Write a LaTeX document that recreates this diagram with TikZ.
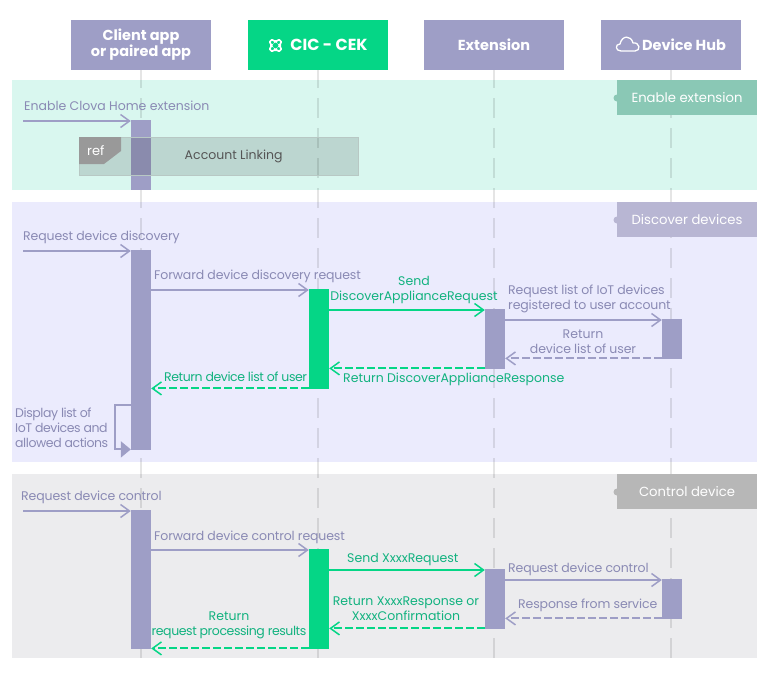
\documentclass[tikz,border=0pt]{standalone}
\usepackage{fontspec}
\setmainfont{Poppins}
\usetikzlibrary{arrows.meta}
\definecolor{reqcol}{HTML}{9E9EC6}
\definecolor{cekcol}{HTML}{05D686}
\definecolor{reqtext}{HTML}{8A8AB4}
\definecolor{cektext}{HTML}{12B27F}
\newcommand{\closer}{\addfontfeature{LetterSpace=-3.4}}
\newcommand{\snug}{\addfontfeature{LetterSpace=-1}}
\tikzstyle{head} = [rectangle, minimum width=140pt, minimum height=50pt, inner sep=0, align=center, text=white, font=\fontsize{14.5}{16}\selectfont\bfseries, fill=reqcol]
\tikzstyle{band} = [rectangle, minimum width=745pt, inner sep=0]
\tikzstyle{tag} = [rectangle, minimum width=140pt, minimum height=35pt, inner sep=0, anchor=north east, text=white, font=\fontsize{13.2}{15}\selectfont]
\tikzstyle{dot} = [circle, minimum size=7pt, inner sep=0]
\tikzstyle{lifeline} = [draw=black, draw opacity=0.1, line width=2pt, dash pattern=on 20pt off 10pt, dash phase=2pt]
\tikzstyle{bar} = [rectangle, minimum width=20pt, inner sep=0, anchor=north, fill=reqcol]
\tikzstyle{cekbar} = [bar, fill=cekcol]
\tikzstyle{req} = [draw=reqcol, line width=2pt, -{Straight Barb[length=9pt,width=13pt,line width=1.5pt]}]
\tikzstyle{reqret} = [req, dash pattern=on 8pt off 3pt]
\tikzstyle{cek} = [req, draw=cekcol]
\tikzstyle{cekret} = [cek, dash pattern=on 8pt off 3pt]
\tikzstyle{lbl} = [inner sep=0, yshift=-1pt, align=left, anchor=west, text=reqtext, font=\fontsize{12.5}{15}\selectfont]
\tikzstyle{ceklbl} = [lbl, text=cektext]

\begin{document}
\begin{tikzpicture}[x=1pt, y=-1pt, node distance=177pt]
\useasboundingbox (0,0) rectangle (770,678);

% bands
\node (bandenable) [band, minimum height=110pt, fill={rgb,255:red,217;green,247;blue,239}] at (384.5,135) {};
\node (bandfind) [band, minimum height=260pt, fill={rgb,255:red,235;green,235;blue,253}] at (384.5,332) {};
\node (bandcontrol) [band, minimum height=184pt, fill={rgb,255:red,236;green,236;blue,238}] at (384.5,566) {};

% headers
\node (client) [head] at (141,45) {Client app\\or paired app};
\node (cic) [head, right of=client, fill=cekcol, font=\fontsize{16}{16}\selectfont\bfseries] {\hspace*{22pt}CIC - CEK};
\node (ext) [head, right of=cic, xshift=-1pt] {Extension};
\node (hub) [head, right of=ext] {\hspace*{26pt}Device Hub};

% lifelines
\draw [lifeline] (client.south) -- ++(0,588);
\draw [lifeline] (cic.south) -- ++(0,588);
\draw [lifeline] (ext.south) -- ++(0,588);
\draw [lifeline] (hub.south) -- ++(0,588);

% tags
\node (dotenable) [dot, fill={rgb,255:red,138;green,200;blue,181}] at (617,98) {};
\node (tagenable) [tag, fill={rgb,255:red,138;green,200;blue,181}] at (bandenable.north east) {Enable extension};
\node (dotfind) [dot, fill={rgb,255:red,184;green,182;blue,211}] at (617,220) {};
\node (tagfind) [tag, fill={rgb,255:red,184;green,182;blue,211}] at (bandfind.north east) {Discover devices};
\node (dotcontrol) [dot, fill={rgb,255:red,183;green,183;blue,183}] at (617,492) {};
\node (tagcontrol) [tag, fill={rgb,255:red,183;green,183;blue,183}] at (bandcontrol.north east) {Control device};

% activation bars
\node (clientb1) [bar, minimum height=70pt] at (141,120) {};
\node (clientb2) [bar, minimum height=200pt] at (141,250) {};
\node (cicb2) [cekbar, minimum height=100pt] at (319,289) {};
\node (extb2) [bar, minimum height=60pt] at (495,309) {};
\node (hubb2) [bar, minimum height=40pt] at (672,319) {};
\node (clientb3) [bar, minimum height=139pt] at (141,510) {};
\node (cicb3) [cekbar, minimum height=100pt] at (319,549) {};
\node (extb3) [bar, minimum height=60pt] at (495,569) {};
\node (hubb3) [bar, minimum height=40pt] at (672,579) {};

% ref frame
\node (linking) [rectangle, minimum width=279pt, minimum height=38pt, inner sep=0, anchor=north west, draw={rgb,255:red,184;green,200;blue,196}, fill={rgb,255:red,26;green,32;blue,32}, fill opacity=0.15, text opacity=1, text={rgb,255:red,85;green,85;blue,85}, font=\fontsize{12.5}{15}\selectfont] at (79,137) {\hspace*{30pt}Account Linking};
\fill [black!40] (linking.north west) -- ++(42,0) -- ++(0,14) -- ++(-17,13) -- ++(-25,0) -- cycle;
\node (reflbl) [lbl, yshift=0pt, text=white, font=\fontsize{13}{15}\selectfont] at (87,150) {ref};

% icons
\draw [white, line width=1.6pt, rounded corners=1.5pt] (270,40) -- (274,40) -- (275.5,42) -- (277,40) -- (281,40) -- (281,44) -- (279,45.5) -- (281,47) -- (281,51) -- (277,51) -- (275.5,49) -- (274,51) -- (270,51) -- (270,47) -- (272,45.5) -- (270,44) -- cycle;
\draw [white, line width=1.3pt, line join=round] (621,51) .. controls (615,51) and (615,44) .. (620,44) .. controls (622,35) and (631,35) .. (633,43) .. controls (640,42) and (641,51) .. (635,51) -- cycle;

% enable extension
\coordinate (inenable) at (23,121);
\coordinate (infind) at (23,251);
\coordinate (incontrol) at (23,511);
\node (l1) [lbl] at (24,105) {Enable Clova Home extension};
\draw [req] (inenable) -- (inenable -| clientb1.west);

% discover devices
\node (l2) [lbl] at (23,236) {\snug Request device discovery};
\draw [req] (infind) -- (infind -| clientb2.west);
\node (l3) [lbl] at (154,275) {\snug Forward device discovery request};
\draw [req] ([yshift=-1pt]clientb2.east |- cicb2.north) -- ([yshift=-1pt]cicb2.north west);
\node (l4) [ceklbl, align=center, anchor=center] at (414,289) {Send\\DiscoverApplianceRequest};
\draw [cek] ([yshift=-1pt]cicb2.east |- extb2.north) -- ([yshift=-1pt]extb2.north west);
\node (l5) [lbl] at (508,297.5) {\snug Request list of IoT devices\\\snug registered to user account};
\draw [req] ([yshift=-1pt]extb2.east |- hubb2.north) -- ([yshift=-1pt]hubb2.north west);
\node (l6) [lbl, align=center, anchor=center] at (583,340.5) {Return\\\snug device list of user};
\draw [reqret] ([yshift=1pt]hubb2.south west) -- ([yshift=1pt]extb2.east |- hubb2.south);
\node (l7) [ceklbl] at (343,378) {Return DiscoverApplianceResponse};
\draw [cekret] ([yshift=1pt]extb2.south west) -- ([yshift=1pt]cicb2.east |- extb2.south);
\node (l8) [ceklbl] at (164,376) {\closer Return device list of user};
\draw [cekret] ([yshift=1pt]cicb2.south west) -- ([yshift=1pt]clientb2.east |- cicb2.south);
\node (l9) [lbl] at (15,427) {\closer Display list of\\\closer IoT devices and\\\closer allowed actions};
\draw [draw=reqcol, line width=2pt, -{Triangle[length=10pt,width=16pt]}] (clientb2.west |- 0,405) -- ++(-16,0) |- ([yshift=1pt]clientb2.south west);

% control device
\node (l10) [lbl] at (21,496) {\snug Request device control};
\draw [req] (incontrol) -- (incontrol -| clientb3.west);
\node (l11) [lbl] at (154,536) {\snug Forward device control request};
\draw [req] ([yshift=-1pt]clientb3.east |- cicb3.north) -- ([yshift=-1pt]cicb3.north west);
\node (l12) [ceklbl] at (347,558) {Send XxxxRequest};
\draw [cek] ([yshift=-1pt]cicb3.east |- extb3.north) -- ([yshift=-1pt]extb3.north west);
\node (l13) [lbl] at (508,568) {\snug Request device control};
\draw [req] ([yshift=-1pt]extb3.east |- hubb3.north) -- ([yshift=-1pt]hubb3.north west);
\node (l14) [lbl] at (518,604) {\snug Response from service};
\draw [reqret] ([yshift=1pt]hubb3.south west) -- ([yshift=1pt]extb3.east |- hubb3.south);
\node (l15) [ceklbl, align=center, anchor=center] at (406,607.5) {Return XxxxResponse or\\XxxxConfirmation};
\draw [cekret] ([yshift=1pt]extb3.south west) -- ([yshift=1pt]cicb3.east |- extb3.south);
\node (l16) [ceklbl, align=center, anchor=center] at (229,624.5) {Return\\\closer request processing results};
\draw [cekret] ([yshift=1pt]cicb3.south west) -- ([yshift=1pt]clientb3.east |- cicb3.south);

\end{tikzpicture}
\end{document}
